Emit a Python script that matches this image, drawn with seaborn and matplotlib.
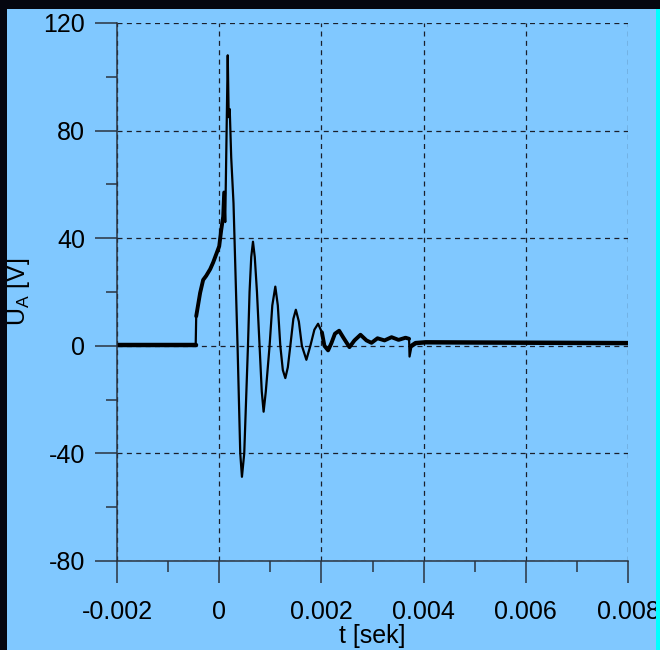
import matplotlib
matplotlib.use("Agg")
import matplotlib.pyplot as plt
import matplotlib.patches as mpatches
from matplotlib.ticker import MultipleLocator, FixedLocator
import seaborn as sns
import pandas as pd

# --- data ---
t_sek = [-0.002, -0.00046, -0.00045, -0.000373, -0.000314, -0.000255, -0.000176,
         -0.000118, -0.000059, 0.0, 0.000039, 0.000078, 0.000098, 0.000118,
         0.000137, 0.000167, 0.000186, 0.000206, 0.000235, 0.00028, 0.000359,
         0.000412, 0.000445, 0.00049, 0.000563, 0.000594, 0.000627, 0.000661,
         0.000696, 0.000739, 0.00079, 0.000833, 0.000869, 0.000912, 0.000986,
         0.001039, 0.001098, 0.001147, 0.001196, 0.001245, 0.001294, 0.001343,
         0.001392, 0.001451, 0.0015, 0.001559, 0.001618, 0.001706, 0.001784,
         0.001863, 0.001935, 0.00201, 0.002059, 0.002131, 0.002196, 0.002265,
         0.002347, 0.002431, 0.002549, 0.002647, 0.002765, 0.002882, 0.00298,
         0.003098, 0.003235, 0.003373, 0.00351, 0.003647, 0.003716, 0.003725,
         0.003765, 0.003843, 0.00404, 0.008]
u_volt = [0.3, 0.3, 11, 19.7, 24.5, 26, 28.5,
          31, 34, 37, 43, 48, 57, 46,
          70, 108, 85, 88, 70, 53, 0,
          -40, -48.7, -40, 0, 20, 33, 38.7,
          33, 20, 0, -17, -24.5, -17, 0,
          15, 22, 15, 0, -9, -12, -8,
          0, 10, 13.4, 9, 0, -5.2, 0,
          6, 8.2, 5, 0, -1.7, 1, 4.5,
          5.6, 3, -0.5, 2, 4.1, 2, 1.1,
          2.8, 2, 3.2, 2.2, 3, 2.6, -4,
          0, 1, 1.3, 1.0]

x_ticks = [-0.002, 0, 0.002, 0.004, 0.006, 0.008]
x_tick_labels = ["-0.002", "0", "0.002", "0.004", "0.006", "0.008"]
y_ticks = [-80, -40, 0, 40, 80, 120]
y_tick_labels = ["-80", "-40", "0", "40", "80", "120"]

df = pd.DataFrame({"t": t_sek, "u": u_volt})

sns.set_style("ticks")
plt.rcParams["font.family"] = ["Liberation Sans", "DejaVu Sans"]

BG = "#80C8FF"
fig = plt.figure(figsize=(6.6, 6.5), dpi=100, facecolor=BG)
ax = fig.add_axes([117 / 660, 1 - 561 / 650, 511 / 660, 538 / 650])
ax.set_facecolor(BG)

# frame decorations seen at the image edges
fig.patches.append(mpatches.Rectangle((0, 1 - 9 / 650), 1, 9 / 650, transform=fig.transFigure,
                                      facecolor="#05060f", edgecolor="none", zorder=0))
fig.patches.append(mpatches.Rectangle((0, 0), 7 / 660, 1, transform=fig.transFigure,
                                      facecolor="#05060f", edgecolor="none", zorder=0))
fig.patches.append(mpatches.Rectangle((656 / 660, 0), 4 / 660, 1 - 9 / 650, transform=fig.transFigure,
                                      facecolor="#00FFFF", edgecolor="none", zorder=0))

# thicker noisy parts of the trace
pre = df[df.t <= -0.00046]
post = df[df.t >= 0.003765]
rise = df[(df.t >= -0.00045) & (df.t <= 0.000098)]
tail = df[(df.t >= 0.00201) & (df.t <= 0.003716)]
sns.lineplot(data=pre, x="t", y="u", ax=ax, color="black", lw=3.2, estimator=None, sort=False)
sns.lineplot(data=post, x="t", y="u", ax=ax, color="black", lw=3.2, estimator=None, sort=False)
sns.lineplot(data=rise, x="t", y="u", ax=ax, color="black", lw=2.8, estimator=None, sort=False)
sns.lineplot(data=tail, x="t", y="u", ax=ax, color="black", lw=2.8, estimator=None, sort=False)
sns.lineplot(data=df, x="t", y="u", ax=ax, color="black", lw=1.6, estimator=None, sort=False)

ax.set_xlim(-0.002, 0.008)
ax.set_ylim(-80, 120)

ax.xaxis.set_major_locator(FixedLocator(x_ticks))
ax.set_xticklabels(x_tick_labels)
ax.yaxis.set_major_locator(FixedLocator(y_ticks))
ax.set_yticklabels(y_tick_labels)
ax.xaxis.set_minor_locator(MultipleLocator(0.001))
ax.yaxis.set_minor_locator(MultipleLocator(20))

ax.grid(True, which="major", color="#1a1f2a", linestyle=(0, (4, 3.5)), linewidth=0.9)
for s in ["top", "right"]:
    ax.spines[s].set_visible(False)
for s in ["left", "bottom"]:
    ax.spines[s].set_color("#2a3440")
    ax.spines[s].set_linewidth(1.1)

ax.tick_params(axis="y", which="major", length=16, width=1.1, color="#2a3440",
               labelsize=18, pad=7, labelcolor="black", direction="out")
ax.tick_params(axis="x", which="major", length=16, width=1.1, color="#2a3440",
               labelsize=18, pad=12, labelcolor="black", direction="out")
ax.tick_params(axis="both", which="minor", length=8, width=1.1, color="#2a3440", direction="out")

ax.set_xlabel("t [sek]", fontsize=18, labelpad=0, color="black")
ax.set_ylabel(r"U$_\mathregular{A}$ [V]", fontsize=18, labelpad=8, color="black")

fig.savefig("out.png", dpi=100, facecolor=BG)
